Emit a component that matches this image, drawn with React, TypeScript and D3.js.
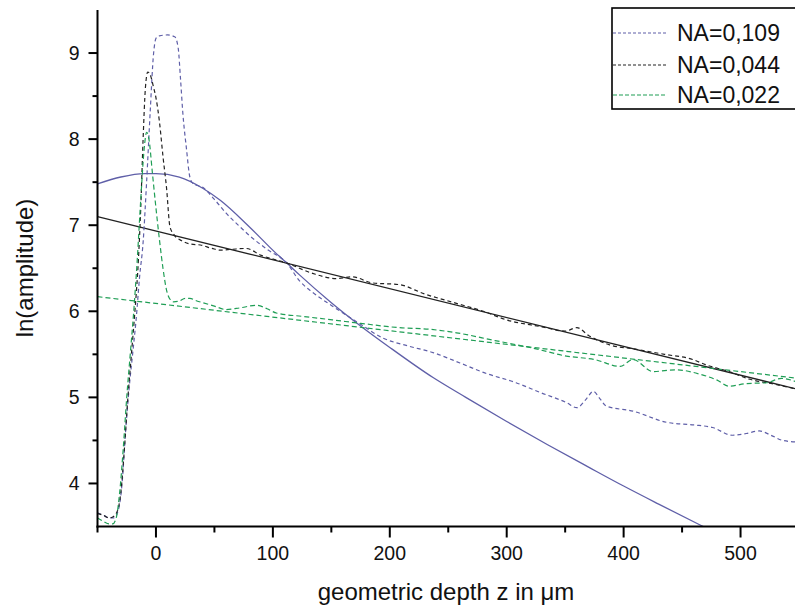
import React from "react";
import * as d3 from "d3";

type P = [number, number];

// NA=0,109 measured curve
const na109: P[] = [
  [-50, 3.66], [-45, 3.63], [-40, 3.6], [-36, 3.6], [-32, 3.7], [-29, 4.0], [-26, 4.6],
  [-23, 5.1], [-20, 5.5], [-17, 5.9], [-14, 6.4], [-11, 6.8], [-8, 7.5], [-5, 8.3],
  [-2, 9.0], [0, 9.17], [3, 9.2], [10, 9.21], [16, 9.19], [19, 9.06], [21, 8.7],
  [23, 8.3], [26, 7.9], [29, 7.56], [32, 7.48], [40, 7.44], [50, 7.3], [60, 7.14],
  [72, 6.98], [80, 6.88], [95, 6.72], [112, 6.56], [123, 6.35], [134, 6.22], [151, 6.06],
  [175, 5.85], [194, 5.69], [215, 5.6], [237, 5.52], [260, 5.4], [280, 5.29], [308, 5.17],
  [330, 5.05], [351, 4.94], [360, 4.88], [368, 4.98], [374, 5.07], [380, 4.98], [385, 4.9],
  [408, 4.84], [437, 4.71], [460, 4.68], [476, 4.65], [493, 4.56], [505, 4.58], [516, 4.61],
  [526, 4.56], [536, 4.5], [550, 4.48],
];

// NA=0,044 measured curve
const na044: P[] = [
  [-50, 3.65], [-45, 3.63], [-40, 3.6], [-37, 3.61], [-33, 3.68], [-30, 3.9], [-27, 4.4],
  [-24, 5.0], [-21, 5.5], [-18, 6.0], [-15, 6.6], [-13, 7.2], [-11, 8.0], [-9, 8.6],
  [-7, 8.78], [-5, 8.75], [-2, 8.6], [0, 8.48], [3, 8.2], [6, 7.8], [9, 7.44], [12, 6.98],
  [16, 6.88], [22, 6.82], [30, 6.78], [38, 6.77], [48, 6.73], [55, 6.71], [65, 6.72],
  [77, 6.73], [90, 6.65], [112, 6.56], [134, 6.44], [154, 6.38], [168, 6.4], [185, 6.33],
  [208, 6.31], [230, 6.2], [255, 6.1], [280, 6.0], [300, 5.9], [330, 5.82], [350, 5.77],
  [360, 5.81], [370, 5.72], [388, 5.61], [410, 5.56], [435, 5.5], [459, 5.44], [470, 5.38],
  [490, 5.3], [508, 5.21], [530, 5.15], [550, 5.09],
];

// NA=0,022 measured curve
const na022: P[] = [
  [-50, 3.6], [-45, 3.56], [-40, 3.53], [-37, 3.53], [-34, 3.6], [-31, 3.9], [-28, 4.4],
  [-25, 5.0], [-22, 5.5], [-19, 6.0], [-16, 6.6], [-13, 7.3], [-10, 7.9], [-8, 8.08],
  [-6, 8.0], [-3, 7.6], [0, 7.2], [3, 6.83], [6, 6.5], [9, 6.25], [12, 6.14], [15, 6.11],
  [20, 6.12], [25, 6.15], [29, 6.15], [35, 6.12], [40, 6.1], [50, 6.06], [60, 6.02],
  [72, 6.04], [86, 6.07], [95, 6.03], [103, 5.98], [126, 5.94], [151, 5.9], [175, 5.86],
  [208, 5.81], [235, 5.79], [257, 5.75], [290, 5.66], [323, 5.57], [351, 5.48], [375, 5.44],
  [397, 5.36], [408, 5.44], [425, 5.3], [445, 5.32], [465, 5.27], [480, 5.2], [490, 5.13],
  [505, 5.16], [522, 5.17], [535, 5.22], [550, 5.17],
];

// Fit curves
const fit109: P[] = [
  [-50, 7.48], [-30, 7.56], [-10, 7.6], [0, 7.6], [20, 7.56], [40, 7.43], [55, 7.29],
  [80, 6.98], [103, 6.67], [112, 6.56], [123, 6.42], [150, 6.1], [175, 5.83], [200, 5.58],
  [237, 5.23], [265, 5.0], [300, 4.72], [335, 4.45], [370, 4.19], [400, 3.97], [430, 3.76],
  [465, 3.52], [480, 3.42],
];
const fit044: P[] = [[-50, 7.1], [550, 5.09]];
const fit022: P[] = [[-50, 6.17], [550, 5.22]];

const xMajor = [0, 100, 200, 300, 400, 500];
const xMinor = [-50, 50, 150, 250, 350, 450, 550];
const yMajor = [4, 5, 6, 7, 8, 9];
const yMinor = [4.5, 5.5, 6.5, 7.5, 8.5];

const legendLabels = ["NA=0,109", "NA=0,044", "NA=0,022"];

const BLUE = "#5f5fa8";
const BLACK = "#222222";
const GREEN = "#1f9e55";
const FONT = "'Liberation Sans', Arial, sans-serif";

export default function App() {
  const W = 795;
  const H = 608;
  const x = d3.scaleLinear().domain([-50, 550]).range([97.5, 799]);
  const y = d3.scaleLinear().domain([3.5, 9.5]).range([526.5, 10]);
  const x0 = x(-50);
  const yBottom = y(3.5);
  const yTop = y(9.5);

  const line = d3
    .line<P>()
    .x((d) => x(d[0]))
    .y((d) => y(d[1]))
    .curve(d3.curveMonotoneX);

  const series = [
    { data: na109, color: BLUE, dash: "4,3", w: 1.2 },
    { data: na044, color: BLACK, dash: "4,3", w: 1.2 },
    { data: na022, color: GREEN, dash: "5,3", w: 1.2 },
  ];
  const fits = [
    { data: fit109, color: BLUE, dash: undefined, w: 1.3 },
    { data: fit044, color: BLACK, dash: undefined, w: 1.3 },
    { data: fit022, color: GREEN, dash: "5,3", w: 1.2 },
  ];

  const legendColors = [BLUE, BLACK, GREEN];
  const legendDash = ["3,2", "3,2", "4,2"];
  const legendYs = [33, 65, 95];

  return (
    <svg
      width={W}
      height={H}
      style={{ position: "absolute", left: 0, top: 0, background: "#fff" }}
    >
      <defs>
        <clipPath id="plot">
          <rect x={x0} y={yTop} width={W - x0} height={yBottom - yTop} />
        </clipPath>
      </defs>
      <rect x={0} y={0} width={W} height={H} fill="#fff" />
      <g clipPath="url(#plot)">
        {fits.map((s, i) => (
          <path
            key={"f" + i}
            d={line(s.data) || ""}
            fill="none"
            stroke={s.color}
            strokeWidth={s.w}
            strokeDasharray={s.dash}
          />
        ))}
        {series.map((s, i) => (
          <path
            key={"s" + i}
            d={line(s.data) || ""}
            fill="none"
            stroke={s.color}
            strokeWidth={s.w}
            strokeDasharray={s.dash}
          />
        ))}
      </g>

      {/* axes */}
      <line x1={x0} x2={x0} y1={yTop} y2={yBottom + 1} stroke="#000" strokeWidth={2} />
      <line x1={x0 - 1} x2={W} y1={yBottom} y2={yBottom} stroke="#000" strokeWidth={2} />

      {xMajor.map((v) => (
        <g key={"xm" + v}>
          <line x1={x(v)} x2={x(v)} y1={yBottom} y2={yBottom + 11} stroke="#000" strokeWidth={2} />
          <text
            x={x(v)}
            y={yBottom + 33}
            textAnchor="middle"
            fontFamily={FONT}
            fontSize={19.5}
            fill="#111"
          >
            {v}
          </text>
        </g>
      ))}
      {xMinor.map((v) => (
        <line key={"xn" + v} x1={x(v)} x2={x(v)} y1={yBottom} y2={yBottom + 6} stroke="#000" strokeWidth={2} />
      ))}
      {yMajor.map((v) => (
        <g key={"ym" + v}>
          <line x1={x0 - 9} x2={x0} y1={y(v)} y2={y(v)} stroke="#000" strokeWidth={2} />
          <text
            x={x0 - 18}
            y={y(v)}
            dy="0.35em"
            textAnchor="end"
            fontFamily={FONT}
            fontSize={19.5}
            fill="#111"
          >
            {v}
          </text>
        </g>
      ))}
      {yMinor.map((v) => (
        <line key={"yn" + v} x1={x0 - 5} x2={x0} y1={y(v)} y2={y(v)} stroke="#000" strokeWidth={2} />
      ))}

      {/* axis titles */}
      <text
        x={446}
        y={600}
        textAnchor="middle"
        fontFamily={FONT}
        fontSize={24}
        fill="#111"
      >
        geometric depth z in μm
      </text>
      <text
        transform={`translate(33, ${268}) rotate(-90)`}
        textAnchor="middle"
        fontFamily={FONT}
        fontSize={24}
        fill="#111"
      >
        ln(amplitude)
      </text>

      {/* legend */}
      <rect x={612} y={8} width={200} height={101} fill="#fff" stroke="#000" strokeWidth={1.6} />
      {legendLabels.map((lab, i) => (
        <g key={lab}>
          <line
            x1={613}
            x2={667}
            y1={legendYs[i]}
            y2={legendYs[i]}
            stroke={legendColors[i]}
            strokeWidth={1.2}
            strokeDasharray={legendDash[i]}
          />
          <text
            x={677}
            y={legendYs[i]}
            dy="0.36em"
            fontFamily={FONT}
            fontSize={23}
            fill="#111"
          >
            {lab}
          </text>
        </g>
      ))}
    </svg>
  );
}
